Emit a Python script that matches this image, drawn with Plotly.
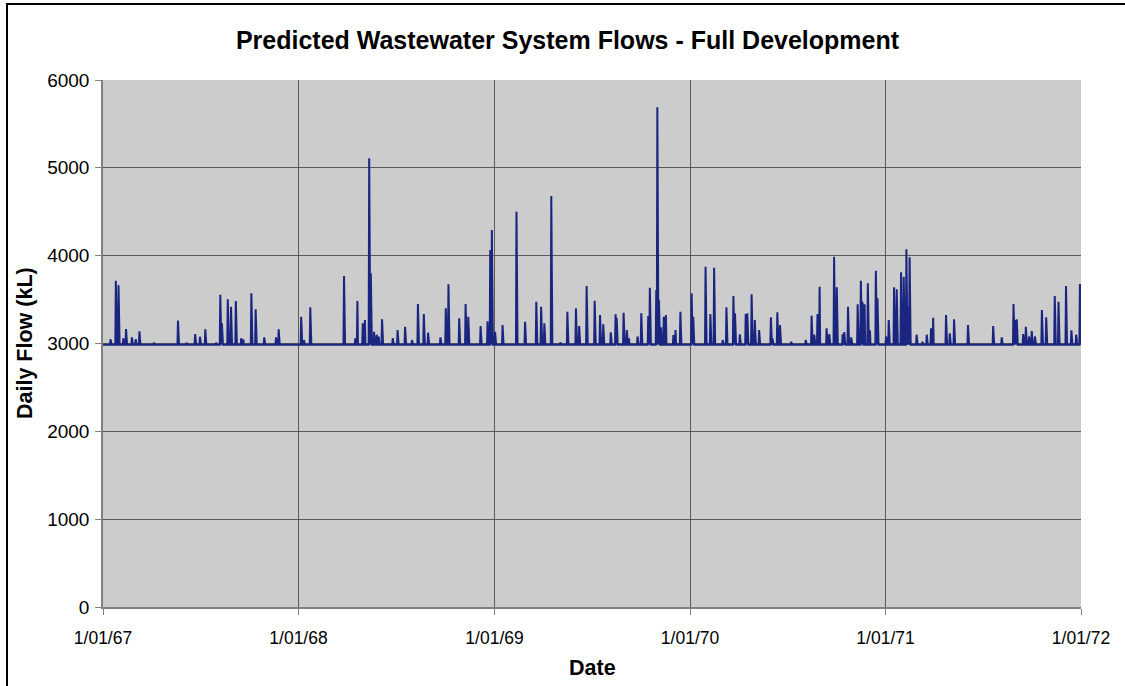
import pandas as pd
import plotly.graph_objects as go

# ---- data ----
START = "1967-01-01"
END = "1972-01-01"
BASE_FLOW = 2985  # dry-weather baseline (kL/day)

# day index since 1 Jan 1967 and peak daily flow (kL) of each wet-weather event
spike_day_1967 = [14, 24, 29, 38, 43, 54, 61, 68, 95, 140, 156, 172, 181, 191, 211,
                  219, 222, 233, 239, 248, 258, 262, 277, 285, 301, 323, 328]
spike_flow_1967 = [3048, 3715, 3663, 3059, 3165, 3070, 3048, 3139, 3010, 3260, 3010, 3108, 3077, 3161, 3010,
                   3556, 3230, 3503, 3419, 3484, 3060, 3048, 3571, 3389, 3070, 3070, 3161]

spike_day_1968 = [370, 375, 387, 450, 471, 475, 485, 489, 497, 500, 506, 511, 515, 521, 541,
                  550, 564, 577, 588, 599, 607, 630, 640, 645, 665, 677, 682, 705, 718, 723]
spike_flow_1968 = [3305, 3040, 3412, 3768, 3060, 3484, 3230, 3268, 5108, 3799, 3134, 3100, 3080, 3275, 3060,
                   3153, 3191, 3040, 3450, 3336, 3123, 3070, 3400, 3674, 3287, 3450, 3305, 3199, 3252, 4064]

spike_day_1969 = [726, 732, 746, 772, 788, 809, 818, 824, 837, 854, 867, 883, 889, 903, 918,
                  928, 934, 948, 957, 959, 972, 978, 982, 998, 1005, 1018, 1021, 1033, 1035, 1038,
                  1042, 1047, 1051, 1065, 1069, 1078]
spike_flow_1969 = [4292, 3134, 3211, 4501, 3248, 3476, 3419, 3230, 4679, 3013, 3362, 3400, 3199, 3655, 3487,
                   3325, 3218, 3127, 3332, 3294, 3351, 3154, 3060, 3080, 3343, 3313, 3635, 3609, 5689, 3495,
                   3184, 3305, 3325, 3097, 3154, 3362]

spike_day_1970 = [1099, 1102, 1125, 1134, 1141, 1157, 1164, 1177, 1180, 1189, 1200, 1203, 1211, 1217, 1225,
                  1247, 1250, 1259, 1264, 1285, 1312, 1323, 1328, 1334, 1338, 1351, 1356, 1365, 1370, 1381,
                  1384, 1391, 1397, 1409, 1415, 1418, 1422, 1428, 1432, 1443, 1446, 1462]
spike_flow_1970 = [3571, 3305, 3874, 3336, 3863, 3040, 3412, 3541, 3343, 3104, 3336, 3343, 3560, 3268, 3154,
                   3298, 3059, 3355, 3211, 3020, 3040, 3317, 3100, 3336, 3647, 3173, 3108, 3988, 3640, 3108,
                   3130, 3419, 3070, 3446, 3715, 3475, 3446, 3685, 3150, 3829, 3514, 3080]

spike_day_1971 = [1467, 1477, 1482, 1490, 1495, 1500, 1503, 1506, 1519, 1530, 1538, 1546, 1550, 1574, 1581,
                  1589, 1615, 1662, 1678, 1700, 1703, 1706, 1718, 1723, 1729, 1734, 1740, 1753, 1761, 1777,
                  1784, 1798, 1808, 1817, 1824, 1826]
spike_flow_1971 = [3268, 3640, 3617, 3810, 3761, 4072, 3419, 3981, 3100, 3020, 3100, 3173, 3294, 3325, 3116,
                   3275, 3211, 3199, 3070, 3450, 3268, 3275, 3108, 3191, 3080, 3142, 3080, 3381, 3298, 3541,
                   3476, 3655, 3150, 3100, 3677, 3419]

year_ticks = ["1967-01-01", "1968-01-01", "1969-01-01", "1970-01-01", "1971-01-01", "1972-01-01"]
year_labels = ["1/01/67", "1/01/68", "1/01/69", "1/01/70", "1/01/71", "1/01/72"]

# ---- build the daily series ----
dates = pd.date_range(START, END, freq="D")
flow = pd.Series(float(BASE_FLOW), index=range(len(dates)))
for days, flows in [(spike_day_1967, spike_flow_1967), (spike_day_1968, spike_flow_1968),
                    (spike_day_1969, spike_flow_1969), (spike_day_1970, spike_flow_1970),
                    (spike_day_1971, spike_flow_1971)]:
    for d, v in zip(days, flows):
        flow[d] = v

FONT = "Liberation Sans, Arial, sans-serif"
W, H = 1125, 686
L, R, T, B = 103, 1081, 80, 607  # plot area edges in pixels
PW, PH = R - L, B - T

fig = go.Figure()
fig.add_trace(go.Scatter(x=dates, y=flow.values, mode="lines",
                         line=dict(color="#1a2580", width=2), showlegend=False))

fig.update_layout(
    width=W, height=H,
    margin=dict(l=L, r=W - R, t=T, b=H - B),
    paper_bgcolor="white", plot_bgcolor="#CCCCCC",
    font=dict(family=FONT, size=18, color="black"),
    title=dict(text="<b>Predicted Wastewater System Flows - Full Development</b>",
               x=(567.5 - L) / PW, xref="paper", y=1 - 40 / H, yref="container",
               xanchor="center", yanchor="middle",
               font=dict(family=FONT, size=25, color="black")),
    xaxis=dict(type="date", range=[START, END], tickvals=year_ticks, ticktext=year_labels,
               showgrid=True, gridcolor="#5a5a5a", gridwidth=1,
               showline=True, linecolor="#808080", linewidth=1.5,
               ticks="outside", ticklen=6, tickcolor="#808080",
               ticklabelstandoff=8,
               tickfont=dict(family=FONT, size=17.5), zeroline=False),
    yaxis=dict(range=[0, 6000], dtick=1000, tick0=0,
               showgrid=True, gridcolor="#5a5a5a", gridwidth=1,
               showline=True, linecolor="#808080", linewidth=1.5,
               ticks="outside", ticklen=6, tickcolor="#808080",
               ticklabelstandoff=2,
               tickfont=dict(family=FONT, size=19), zeroline=False),
    annotations=[
        dict(text="<b>Date</b>", xref="paper", yref="paper", x=(592 - L) / PW, y=(B - 668) / PH,
             xanchor="center", yanchor="middle", showarrow=False,
             font=dict(family=FONT, size=21.5)),
        dict(text="<b>Daily Flow (kL)</b>", xref="paper", yref="paper",
             x=(25 - L) / PW, y=(B - 343) / PH, textangle=-90,
             xanchor="center", yanchor="middle", showarrow=False,
             font=dict(family=FONT, size=21.5)),
    ],
    shapes=[
        dict(type="rect", xref="paper", yref="paper",
             x0=(7 - L) / PW, x1=(1160 - L) / PW,
             y0=(B - 720) / PH, y1=(B - 4) / PH,
             line=dict(color="black", width=2), fillcolor="rgba(0,0,0,0)", layer="above"),
    ],
)

fig.write_html("out.html", config={"displayModeBar": False},
               post_script="document.body.style.margin='0';document.body.style.overflow='hidden';")
